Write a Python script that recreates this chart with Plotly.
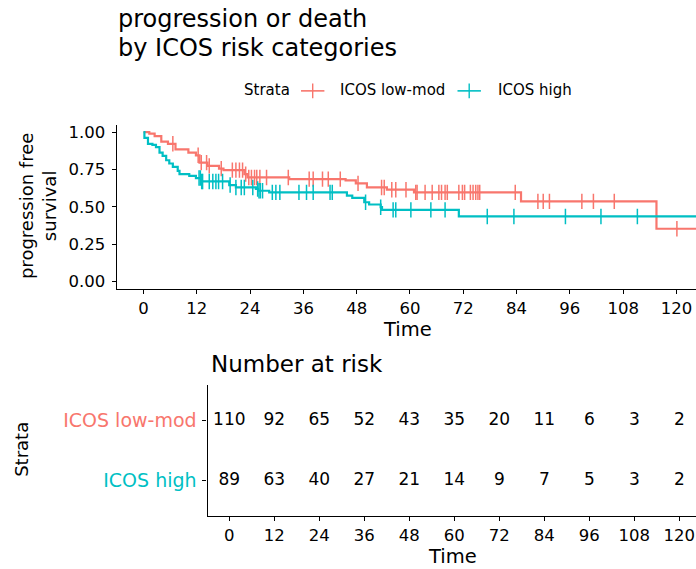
import numpy as np
import plotly.graph_objects as go

W, H = 696, 569
RED = "#F8766D"
TEAL = "#00BFC4"
FONT = "DejaVu Sans"

# ---------------- data ----------------
strata = ["ICOS low-mod", "ICOS high"]

# Kaplan-Meier step curves (time in months, survival probability)
low_t = [0, 1.3, 2.5, 4.0, 5.5, 7.2, 10.1, 11.8, 12.6, 14.4, 17.0, 18.0, 22.7, 23.4,
         32.8, 45.5, 47.8, 50.3, 54.8, 60.9, 85.0, 115.5]
low_s = [1.0, 0.99, 0.973, 0.936, 0.922, 0.885, 0.863, 0.845, 0.796, 0.774, 0.756, 0.746,
         0.719, 0.697, 0.686, 0.677, 0.657, 0.630, 0.615, 0.597, 0.537, 0.354]

high_t = [0, 0.2, 1.0, 2.0, 2.8, 3.6, 4.3, 5.1, 5.8, 6.6, 7.7, 8.1, 10.3, 11.8, 13.0,
          19.3, 20.8, 25.3, 25.8, 28.3, 45.8, 47.0, 49.7, 50.8, 53.4, 53.7, 71.0]
high_s = [1.0, 0.962, 0.922, 0.914, 0.900, 0.863, 0.841, 0.812, 0.790, 0.768, 0.741, 0.719,
          0.708, 0.693, 0.670, 0.646, 0.630, 0.620, 0.608, 0.597, 0.575, 0.560, 0.531,
          0.516, 0.498, 0.480, 0.436]

follow_end = 126

# censoring times
low_cens = [6.6, 12.3, 13.0, 14.2, 14.8, 17.5, 20.0, 20.8, 21.6, 22.3, 23.0, 23.7, 24.3,
            25.0, 25.5, 26.2, 27.7, 32.6, 37.3, 38.2, 40.3, 41.6, 44.3, 48.3, 53.6, 54.2,
            55.9, 56.8, 59.1, 61.3, 61.6, 63.4, 65.0, 66.5, 67.1, 67.9, 68.4, 71.0, 71.8,
            72.3, 73.6, 74.2, 74.8, 75.3, 75.7, 83.7, 88.8, 90.0, 91.4, 98.7, 101.3,
            106.0, 120.1]
high_cens = [12.5, 12.8, 13.1, 13.3, 14.8, 15.6, 16.3, 16.9, 17.8, 19.5, 20.8, 22.0, 22.7,
             24.6, 25.7, 26.0, 26.3, 26.8, 29.0, 29.8, 30.7, 35.0, 36.7, 38.2, 42.0, 42.5,
             50.0, 53.4, 56.2, 56.8, 60.2, 64.7, 67.9, 77.4, 83.4, 95.0, 103.0, 111.2]

# number at risk table
risk_times = [0, 12, 24, 36, 48, 60, 72, 84, 96, 108, 120]
low_risk = [110, 92, 65, 52, 43, 35, 20, 11, 6, 3, 2]
high_risk = [89, 63, 40, 27, 21, 14, 9, 7, 5, 3, 2]

y_ticks = [0, 0.25, 0.5, 0.75, 1.0]
y_ticktext = ["0.00", "0.25", "0.50", "0.75", "1.00"]


def step_at(ts, ss, q):
    idx = np.searchsorted(np.array(ts), np.array(q), side="right") - 1
    return np.array(ss)[idx]


def px(x):
    return x / W


def py(y):
    return 1 - y / H


fig = go.Figure()

curves = [(low_t, low_s, low_cens, RED), (high_t, high_s, high_cens, TEAL)]
for t, s, c, col in curves:
    fig.add_trace(go.Scatter(x=t + [follow_end], y=s + [s[-1]], mode="lines",
                             line=dict(color=col, width=2.2, shape="hv"),
                             xaxis="x", yaxis="y", showlegend=False, hoverinfo="skip"))
for t, s, c, col in curves:
    fig.add_trace(go.Scatter(x=c, y=step_at(t, s, c), mode="markers",
                             marker=dict(symbol="line-ns", size=11, color=col,
                                         line=dict(width=1.5, color=col)),
                             xaxis="x", yaxis="y", showlegend=False, hoverinfo="skip"))

# risk table
for row, vals in [(2, low_risk), (1, high_risk)]:
    fig.add_trace(go.Scatter(x=risk_times, y=[row] * len(risk_times), mode="text",
                             text=[str(v) for v in vals],
                             textfont=dict(family=FONT, size=17, color="black"),
                             xaxis="x2", yaxis="y2", showlegend=False, hoverinfo="skip"))

axis_common = dict(showline=True, linecolor="black", linewidth=1.2, ticks="outside",
                   ticklen=4, tickwidth=1.1, tickcolor="black", showgrid=False,
                   zeroline=False, tickfont=dict(family=FONT, size=16.5, color="black"))

fig.update_layout(
    width=W, height=H, autosize=False,
    margin=dict(l=0, r=0, t=0, b=0),
    paper_bgcolor="white", plot_bgcolor="white",
    font=dict(family=FONT, color="black"),
    showlegend=False,
    xaxis=dict(domain=[px(116.7), 1], range=[-6.04, 124.4], tickvals=risk_times,
               anchor="y", ticklabelstandoff=0, **axis_common),
    yaxis=dict(domain=[py(289.2), py(123.5)], range=[-0.05, 1.05], tickvals=y_ticks,
               ticktext=y_ticktext, anchor="x", ticklabelstandoff=3, **axis_common),
    xaxis2=dict(domain=[px(207.5), 1], range=[-5.81, 124.45], tickvals=risk_times,
                anchor="y2", ticklabelstandoff=0, **axis_common),
    yaxis2=dict(domain=[py(517.7), py(385.7)], range=[0.4, 2.6], tickvals=[2, 1],
                ticktext=[f'<span style="color:{RED}">{strata[0]}</span>',
                          f'<span style="color:{TEAL}">{strata[1]}</span>'],
                anchor="x2", ticklabelstandoff=2,
                **{**axis_common, "tickfont": dict(family=FONT, size=19)}),
)


def ann(text, x, y, size, xanchor="left", angle=0, color="black"):
    fig.add_annotation(text=text, x=px(x), y=py(y), xref="paper", yref="paper",
                       xanchor=xanchor, yanchor="middle", showarrow=False,
                       textangle=angle, font=dict(family=FONT, size=size, color=color))


ann("progression or death", 116, 17, 24)
ann("by ICOS risk categories", 116, 46, 24)
ann("Strata", 242, 89, 15)
ann(strata[0], 338, 89, 15)
ann(strata[1], 496, 89, 15)
ann("progression free<br>survival", 37.5, 206, 18, xanchor="center", angle=-90)
ann("Time", 408, 329.5, 19.5, xanchor="center")
ann("Number at risk", 208.5, 365, 23)
ann("Strata", 22, 451, 18, xanchor="center", angle=-90)
ann("Time", 452, 558.5, 19.5, xanchor="center")

# legend glyphs (cross = line + censor tick)
for cx, col in [(312.7, RED), (469.2, TEAL)]:
    fig.add_shape(type="line", xref="paper", yref="paper", x0=px(cx - 11.7), x1=px(cx + 11.7),
                  y0=py(89.5), y1=py(89.5), line=dict(color=col, width=1.6))
    fig.add_shape(type="line", xref="paper", yref="paper", x0=px(cx), x1=px(cx),
                  y0=py(82), y1=py(97), line=dict(color=col, width=1.4))

fig.write_html("out.html")
